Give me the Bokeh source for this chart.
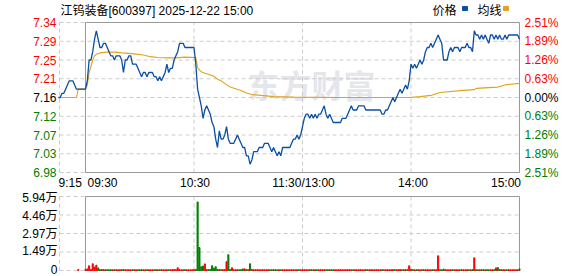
from bokeh.plotting import figure
from bokeh.models import Range1d, ColumnDataSource
from bokeh.layouts import column
from bokeh.embed import file_html
from bokeh.resources import INLINE
from bokeh.core.properties import value

# ---------------- data ----------------
title_text = "江钨装备[600397] 2025-12-22 15:00"
prev_close = 7.16

# call auction 09:15-09:25 (minute offsets from 09:30)
pre_min = [-15, -14, -13, -12, -11, -10, -9, -8, -7, -6, -5]
pre_price = [7.16, 7.16, 7.17, 7.17, 7.18, 7.19, 7.20, 7.20, 7.20, 7.19, 7.18]

# 09:30 .. 11:30, one value per minute
am_price = [
    7.18, 7.20, 7.25, 7.25, 7.27, 7.30, 7.32, 7.30, 7.28, 7.28,
    7.29, 7.29, 7.28, 7.27, 7.26, 7.26, 7.25, 7.26, 7.26, 7.26,
    7.25, 7.22, 7.25, 7.25, 7.26, 7.26, 7.24, 7.24, 7.24, 7.23,
    7.22, 7.21, 7.22, 7.22, 7.21, 7.22, 7.22, 7.22, 7.21, 7.21,
    7.20, 7.21, 7.20, 7.21, 7.22, 7.24, 7.22, 7.23, 7.23, 7.25,
    7.26, 7.27, 7.29, 7.29, 7.29, 7.28, 7.28, 7.28, 7.28, 7.28,
    7.28, 7.24, 7.18, 7.16, 7.14, 7.11, 7.13, 7.14, 7.13, 7.12,
    7.10, 7.09, 7.06, 7.04, 7.08, 7.06, 7.06, 7.07, 7.09, 7.06,
    7.05, 7.05, 7.05, 7.06, 7.07, 7.06, 7.05, 7.04, 7.04, 7.02,
    7.02, 7.00, 7.01, 7.03, 7.03, 7.03, 7.04, 7.04, 7.04, 7.05,
    7.05, 7.05, 7.04, 7.03, 7.04, 7.03, 7.02, 7.03, 7.02, 7.04,
    7.04, 7.04, 7.04, 7.04, 7.05, 7.06, 7.06, 7.07, 7.06, 7.07,
    7.09,
]
# 13:01 .. 15:00
pm_price = [
    7.11, 7.12, 7.12, 7.11, 7.12, 7.11, 7.12, 7.11, 7.12, 7.12,
    7.13, 7.14, 7.12, 7.11, 7.12, 7.11, 7.10, 7.10, 7.10, 7.10,
    7.10, 7.11, 7.11, 7.11, 7.12, 7.13, 7.14, 7.13, 7.13, 7.13,
    7.14, 7.14, 7.14, 7.14, 7.13, 7.13, 7.13, 7.13, 7.13, 7.13,
    7.13, 7.13, 7.13, 7.12, 7.12, 7.13, 7.13, 7.14, 7.15, 7.16,
    7.15, 7.16, 7.17, 7.18, 7.17, 7.18, 7.19, 7.18, 7.20, 7.24,
    7.23, 7.24, 7.23, 7.24, 7.25, 7.24, 7.25, 7.27, 7.28, 7.28,
    7.29, 7.28, 7.29, 7.30, 7.31, 7.30, 7.29, 7.25, 7.25, 7.25,
    7.27, 7.28, 7.27, 7.28, 7.28, 7.28, 7.27, 7.28, 7.28, 7.28,
    7.29, 7.28, 7.28, 7.27, 7.32, 7.31, 7.31, 7.30, 7.31, 7.30,
    7.31, 7.30, 7.29, 7.31, 7.31, 7.30, 7.31, 7.30, 7.31, 7.30,
    7.30, 7.31, 7.30, 7.31, 7.31, 7.31, 7.31, 7.31, 7.31, 7.30,
]

# average price line (minute offset, price)
avg_min = [-15, -5, -4, 0, 1, 2, 3, 4, 5, 6, 8, 12, 16, 20, 24, 28, 32, 36, 40, 45,
           50, 55, 61, 62, 63, 64, 66, 68, 71, 73, 75, 78, 80, 83, 86, 89, 92, 97, 100,
           104, 115, 140, 179, 185, 191, 196, 209, 215, 216, 228, 233, 240]
avg_price = [7.16, 7.16, 7.18, 7.18, 7.19, 7.22, 7.235, 7.25, 7.26, 7.264, 7.267, 7.269,
             7.269, 7.267, 7.266, 7.264, 7.262, 7.258, 7.256, 7.255, 7.255, 7.257, 7.256,
             7.232, 7.226, 7.222, 7.218, 7.216, 7.211, 7.204, 7.200, 7.191, 7.185, 7.181,
             7.177, 7.171, 7.167, 7.165, 7.164, 7.162, 7.161, 7.160, 7.160, 7.162, 7.165,
             7.172, 7.177, 7.179, 7.182, 7.185, 7.191, 7.194]

# volume, in 万
auction_min = [-4]
auction_vol = [0.08]
am_vol = [
    0.10, 0.13, 0.38, 0.08, 0.54, 0.27, 0.43, 0.21, 0.07, 0.08,
    0.07, 0.06, 0.07, 0.06, 0.07, 0.06, 0.06, 0.07, 0.06, 0.06,
    0.07, 0.08, 0.06, 0.06, 0.07, 0.06, 0.06, 0.07, 0.06, 0.06,
    0.06, 0.07, 0.06, 0.06, 0.06, 0.07, 0.06, 0.06, 0.06, 0.07,
    0.06, 0.06, 0.07, 0.06, 0.06, 0.07, 0.06, 0.06, 0.07, 0.08,
    0.07, 0.22, 0.07, 0.06, 0.06, 0.07, 0.06, 0.06, 0.06, 0.06,
    0.07, 0.09, 5.50, 1.84, 0.30, 0.36, 0.53, 0.08, 0.07, 0.08,
    0.38, 0.19, 0.30, 0.09, 0.08, 0.07, 0.07, 0.08, 0.71, 1.27,
    0.08, 0.22, 0.07, 0.06, 0.07, 0.06, 0.07, 0.13, 0.13, 0.08,
    0.07, 0.54, 0.08, 0.07, 0.06, 0.07, 0.06, 0.06, 0.07, 0.06,
    0.06, 0.07, 0.06, 0.06, 0.07, 0.06, 0.06, 0.07, 0.06, 0.06,
    0.06, 0.07, 0.06, 0.06, 0.07, 0.06, 0.06, 0.07, 0.06, 0.06,
    0.07,
]
pm_vol = [
    0.07, 0.06, 0.06, 0.07, 0.06, 0.06, 0.07, 0.06, 0.06, 0.07,
    0.06, 0.07, 0.06, 0.06, 0.07, 0.06, 0.06, 0.07, 0.06, 0.06,
    0.07, 0.06, 0.06, 0.07, 0.06, 0.07, 0.06, 0.06, 0.07, 0.06,
    0.06, 0.07, 0.06, 0.06, 0.07, 0.06, 0.06, 0.07, 0.06, 0.06,
    0.07, 0.06, 0.06, 0.07, 0.06, 0.06, 0.07, 0.06, 0.07, 0.08,
    0.06, 0.07, 0.07, 0.08, 0.06, 0.07, 0.07, 0.06, 0.38, 0.09,
    0.07, 0.06, 0.06, 0.07, 0.06, 0.06, 0.07, 0.06, 0.07, 0.06,
    0.06, 0.07, 0.06, 0.07, 1.18, 0.07, 0.06, 0.11, 0.07, 0.06,
    0.06, 0.07, 0.06, 0.06, 0.07, 0.06, 0.06, 0.07, 0.06, 0.06,
    0.07, 0.06, 0.06, 0.07, 1.02, 0.07, 0.06, 0.06, 0.07, 0.06,
    0.06, 0.07, 0.06, 0.06, 0.07, 0.06, 0.21, 0.24, 0.08, 0.06,
    0.07, 0.06, 0.06, 0.07, 0.06, 0.06, 0.07, 0.06, 0.06, 0.13,
]

price_ticks = [6.98, 7.025, 7.07, 7.115, 7.16, 7.205, 7.25, 7.295, 7.34]
price_labels = ["6.98", "7.03", "7.07", "7.12", "7.16", "7.21", "7.25", "7.29", "7.34"]
pct_labels = ["2.51%", "1.89%", "1.26%", "0.63%", "0.00%", "0.63%", "1.26%", "1.89%", "2.51%"]
vol_ticks = [0, 1.485, 2.97, 4.455, 5.94]
vol_labels = ["0", "1.49万", "2.97万", "4.46万", "5.94万"]
time_ticks = [-14.38, 0, 60, 120, 180, 240]
time_labels = ["9:15", "09:30", "10:30", "11:30/13:00", "14:00", "15:00"]
legend_labels = ["价格", "均线"]

# ---------------- layout / styling ----------------
FONT = "Liberation Sans, Noto Sans CJK SC"
FS = "12px"
RED, GREEN, BLACK = "#ff0000", "#008000", "#000000"
BLUE, GOLD = "#0a4fa3", "#dfa31e"
GRID_C, FRAME_C = "#cccccc", "#999999"
DASH = "4 3"
W = 578
X0, X1 = time_ticks[0], time_ticks[-1]
OPEN_PX = 85                       # pixel column of 09:30
PX_MIN = 434 / 240                 # pixels per minute
def px_x(px):                      # pixel column -> minute coordinate
    return (px - OPEN_PX) / PX_MIN

# price panel: 190 px tall, frame from y=22 to y=172
P_H, P_TOP, P_BOT = 190, 22, 172
P_PER_PX = (price_ticks[-1] - price_ticks[0]) / (P_BOT - P_TOP)
def py(pxl):                       # pixel row -> price coordinate
    return price_ticks[-1] - (pxl - P_TOP) * P_PER_PX

# volume panel: 86 px tall, frame from y=6 to y=80
V_H, V_TOP, V_BOT = 86, 6, 80
V_PER_PX = (vol_ticks[-1] - vol_ticks[0]) / (V_BOT - V_TOP)
def vy(pxl):
    return vol_ticks[-1] - (pxl - V_TOP) * V_PER_PX

main_min = list(range(len(am_price))) + list(range(len(am_price), len(am_price) + len(pm_price)))
main_price = am_price + pm_price
main_vol = am_vol + pm_vol

def lvl_color(v):
    if abs(v - prev_close) < 1e-9:
        return BLACK
    return RED if v > prev_close else GREEN

def base_fig(h, y0, y1):
    f = figure(width=W, height=h, x_range=Range1d(px_x(0), px_x(W)), y_range=Range1d(y0, y1),
               x_axis_type=None, y_axis_type=None, toolbar_location=None,
               output_backend="svg", title=None,
               min_border_left=0, min_border_right=0, min_border_top=0, min_border_bottom=0)
    f.outline_line_color = None
    f.background_fill_color = "white"
    f.border_fill_color = "white"
    return f

def txt(f, x, y, text, color, align, size=FS, font=FONT, **kw):
    src = ColumnDataSource(dict(x=x, y=y, text=text, c=color))
    f.text(x="x", y="y", text="text", source=src, text_color="c", text_align=align,
           text_baseline="middle", text_font=value(font), text_font_size=value(size), **kw)

grid_x = [X0, 60, 120, 180]

# ---------------- price panel ----------------
p = base_fig(P_H, py(P_H), py(0))

# watermark
txt(p, [px_x(311)], [py(83)], ["东方财富"], ["#e4e6ec"], "center", size="32px",
    font="Noto Sans CJK SC", text_font_style="bold")

# dashed grid
p.segment(x0=[X0] * len(price_ticks), y0=price_ticks, x1=[X1] * len(price_ticks), y1=price_ticks,
          line_color=GRID_C, line_dash=DASH, line_width=1)
p.segment(x0=grid_x, y0=[price_ticks[0]] * 4, x1=grid_x, y1=[price_ticks[-1]] * 4,
          line_color=GRID_C, line_dash=DASH, line_width=1)
# solid frame of the trading session
p.quad(left=[0], right=[X1], bottom=[price_ticks[0]], top=[price_ticks[-1]],
       fill_color=None, line_color=FRAME_C, line_width=1)

p.line(avg_min, avg_price, color=GOLD, line_width=1.1)
p.line(pre_min + main_min, pre_price + main_price, color=BLUE, line_width=1.3)

cols = [lvl_color(t) for t in price_ticks]
txt(p, [px_x(56)] * 9, price_ticks, price_labels, cols, "right")
txt(p, [px_x(524)] * 9, price_ticks, pct_labels, cols, "left")

# time labels
t_x = [px_x(58), px_x(87), px_x(194.5), px_x(303), px_x(412.5), px_x(520.5)]
txt(p, t_x[:2], [py(182)] * 2, time_labels[:2], [BLACK] * 2, "left")
txt(p, t_x[2:5], [py(182)] * 3, time_labels[2:5], [BLACK] * 3, "center")
txt(p, t_x[5:], [py(182)], time_labels[5:], [BLACK], "right")

# title and legend
txt(p, [px_x(60)], [py(10)], [title_text], [BLACK], "left")
txt(p, [px_x(432), px_x(477)], [py(10), py(10)], legend_labels, [BLACK, BLACK], "left")
p.rect(x=[px_x(464.5), px_x(505.5)], y=[py(8), py(8)], width=5, height=4,
       width_units="screen", height_units="screen", color=[BLUE, GOLD])

# ---------------- volume panel ----------------
v = base_fig(V_H, vy(V_H), vy(0))
v.segment(x0=[X0] * len(vol_ticks), y0=vol_ticks, x1=[X1] * len(vol_ticks), y1=vol_ticks,
          line_color=GRID_C, line_dash=DASH, line_width=1)
v.segment(x0=grid_x, y0=[vol_ticks[0]] * 4, x1=grid_x, y1=[vol_ticks[-1]] * 4,
          line_color=GRID_C, line_dash=DASH, line_width=1)
v.quad(left=[0], right=[X1], bottom=[vol_ticks[0]], top=[vol_ticks[-1]],
       fill_color=None, line_color=FRAME_C, line_width=1)

all_price = pre_price[-1:] + main_price
bar_colors = [RED if all_price[i + 1] >= all_price[i] else GREEN for i in range(len(main_price))]
v.vbar(x=main_min, top=main_vol, bottom=0, width=0.6, color=bar_colors)
v.vbar(x=auction_min, top=auction_vol, bottom=0, width=0.6, color=RED)

# label rows: slightly compressed towards the middle, as in the reference (7 .. 78.5 px)
LAB_TOP, LAB_BOT = 7.5, 78.5
lab_y = [vy(LAB_TOP + (vol_ticks[-1] - t) / vol_ticks[-1] * (LAB_BOT - LAB_TOP)) for t in vol_ticks]
txt(v, [px_x(57)] * len(vol_ticks), lab_y, vol_labels, [BLACK] * len(vol_ticks), "right")

layout = column(p, v, spacing=0)
open("out.html", "w").write(file_html(layout, INLINE))
